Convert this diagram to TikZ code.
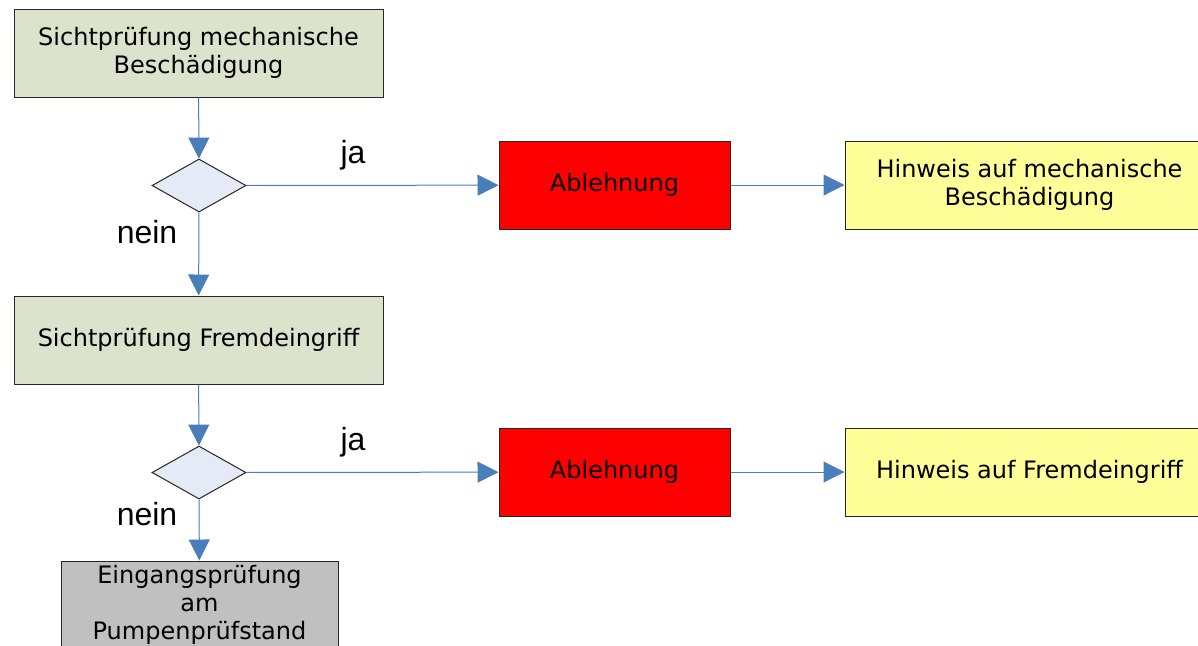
\documentclass[tikz,border=0pt]{standalone}
\usepackage{fontspec}
\setmainfont{DejaVu Sans}
\newfontfamily\arialfont{Liberation Sans}
\usetikzlibrary{shapes.geometric, arrows.meta}
\definecolor{olivegrey}{HTML}{DDE2CC}
\definecolor{paleblue}{HTML}{E4EBF6}
\definecolor{paleyellow}{HTML}{FFFF99}
\definecolor{linkblue}{HTML}{4A7EBB}
\definecolor{boxgrey}{HTML}{C0C0C0}

\begin{document}
\begin{tikzpicture}[x=0.5pt, y=-0.5pt, box/.style={rectangle, draw=black!85, line width=0.5pt, minimum width=184.5pt, minimum height=44pt, inner sep=1pt, align=center, font=\fontsize{12}{14}\selectfont}, check/.style={box, fill=olivegrey}, decision/.style={diamond, draw=black!85, line width=0.5pt, fill=paleblue, minimum width=47pt, minimum height=26.5pt, inner sep=0pt}, reject/.style={box, fill=red, minimum width=115.5pt}, note/.style={box, fill=paleyellow}, answer/.style={anchor=base, font=\arialfont\fontsize{16}{16}\selectfont}, link/.style={draw=linkblue, line width=0.5pt, -{Triangle[width=10.5pt, length=10.5pt]}}]
  \useasboundingbox (0,0) rectangle (1198,645);
  \node[check] (check1) at (198.5,53) {Sichtprüfung mechanische\\Beschädigung};
  \node[decision] (choice1) at (199,185.5) {};
  \node[reject] (reject1) at (614.5,185) {Ablehnung};
  \node[note] (note1) at (1029.5,185) {Hinweis auf mechanische\\Beschädigung};
  \node[check] (check2) at (198.5,340) {Sichtprüfung Fremdeingriff};
  \node[decision] (choice2) at (199,472.5) {};
  \node[reject] (reject2) at (614.5,472) {Ablehnung};
  \node[note] (note2) at (1029.5,472) {Hinweis auf Fremdeingriff};
  \node[box, fill=boxgrey, minimum width=138.5pt] (bench) at (199.5,605) {Eingangsprüfung\\am\\Pumpenprüfstand};
  \node[answer] (yes1) at (353,163) {ja};
  \node[answer] (no1) at (147,243) {nein};
  \node[answer] (yes2) at (353,450) {ja};
  \node[answer] (no2) at (147,525) {nein};
  \draw[link] (check1) -- (choice1);
  \draw[link] (choice1) -- (reject1);
  \draw[link] (reject1) -- (note1);
  \draw[link] (choice1) -- (check2);
  \draw[link] (check2) -- (choice2);
  \draw[link] (choice2) -- (reject2);
  \draw[link] (reject2) -- (note2);
  \draw[link] (choice2) -- (bench);
\end{tikzpicture}
\end{document}
